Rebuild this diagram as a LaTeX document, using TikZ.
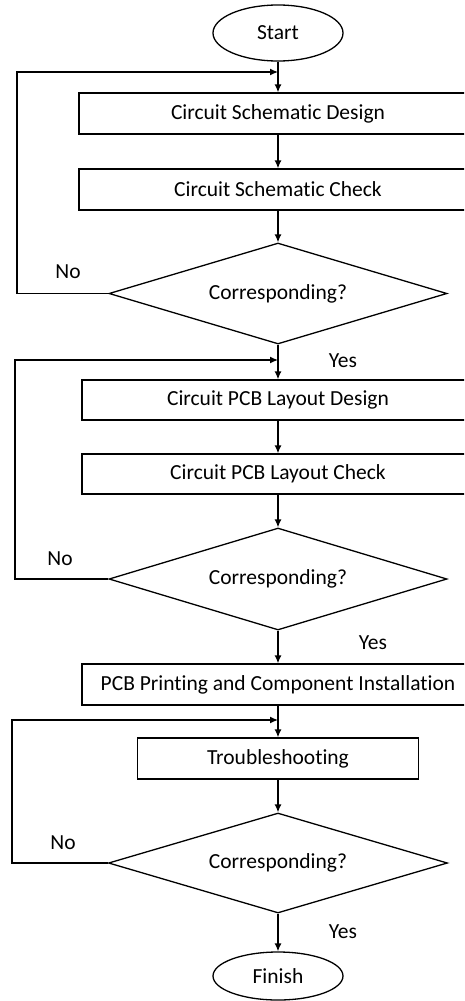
\documentclass[tikz,border=0pt]{standalone}
\usepackage{fontspec}
\setmainfont{Carlito}[Ligatures=NoCommon]
\usetikzlibrary{arrows.meta,positioning,shapes.geometric}

\begin{document}
\begin{tikzpicture}[
		x=1pt,y=-1pt,
		>={Latex[length=8pt,width=7pt]},
		line width=1.3pt,
		every node/.style={
			font=\fontsize{21.5}{25}\selectfont
		},
		terminal/.style={
			draw,
			ellipse,
			minimum width=130pt,
			minimum height=56pt,
			inner sep=0pt
		},
		process/.style={
			draw,
			rectangle,
			minimum height=41pt,
			inner sep=0pt
		},
		decision/.style={
			draw,
			diamond,
			aspect=3.35,
			minimum width=338pt,
			minimum height=101pt,
			inner sep=0pt
		},
		flow/.style={
			->
		}
		]
		\path[use as bounding box] (0,0) rectangle (464,1001);
		\clip (0,0) rectangle (464,1001);
		
		% schematic stage
		\node[terminal] (START) at (278,33) {Start};
		\node[process,minimum width=398pt] (SCHEMDES) at (278,113.5) {Circuit Schematic Design};
		\node[process,minimum width=398pt] (SCHEMCHK) at (278,189.5) {Circuit Schematic Check};
		\node[decision] (DEC1) at (278,293.5) {Corresponding?};
		\node (NO1) at (68,272) {No};
		\node (YES1) at (343,361) {Yes};
		\coordinate (J1) at (278,72);
		\coordinate (K1) at (17,72);
		
		% layout stage
		\node[process,minimum width=392pt,minimum height=40pt] (PCBDES) at (278,400) {Circuit PCB Layout Design};
		\node[process,minimum width=392pt,minimum height=40pt] (PCBCHK) at (278,474) {Circuit PCB Layout Check};
		\node[decision,minimum height=102pt] (DEC2) at (278,579) {Corresponding?};
		\node (NO2) at (60,559) {No};
		\node (YES2) at (373,643) {Yes};
		\coordinate (J2) at (278,360);
		\coordinate (K2) at (15,360);
		
		% assembly and test
		\node[process,minimum width=392pt] (PRINT) at (278,684.5) {PCB Printing and Component Installation};
		\node[process,minimum width=281pt] (TROUBLE) at (278,758.5) {Troubleshooting};
		\node[decision,minimum width=339pt,minimum height=100pt] (DEC3) at (278,863) {Corresponding?};
		\node (NO3) at (63,843) {No};
		\node (YES3) at (343,932) {Yes};
		\node[terminal,minimum height=48pt] (FINISH) at (278,976) {Finish};
		\coordinate (J3) at (278,720);
		\coordinate (K3) at (12,720);
		
		\draw[flow] (START) -- (SCHEMDES);
		\draw[flow] (SCHEMDES) -- (SCHEMCHK);
		\draw[flow] (SCHEMCHK) -- (DEC1);
		\draw[flow] (DEC1) -- (PCBDES);
		\draw[flow] (PCBDES) -- (PCBCHK);
		\draw[flow] (PCBCHK) -- (DEC2);
		\draw[flow] (DEC2) -- (PRINT);
		\draw[flow] (PRINT) -- (TROUBLE);
		\draw[flow] (TROUBLE) -- (DEC3);
		\draw[flow] (DEC3) -- (FINISH);
		
		\draw[flow] (DEC1.west) -| (K1) -- (J1);
		\draw[flow] (DEC2.west) -| (K2) -- (J2);
		\draw[flow] (DEC3.west) -| (K3) -- (J3);
\end{tikzpicture}
\end{document}
